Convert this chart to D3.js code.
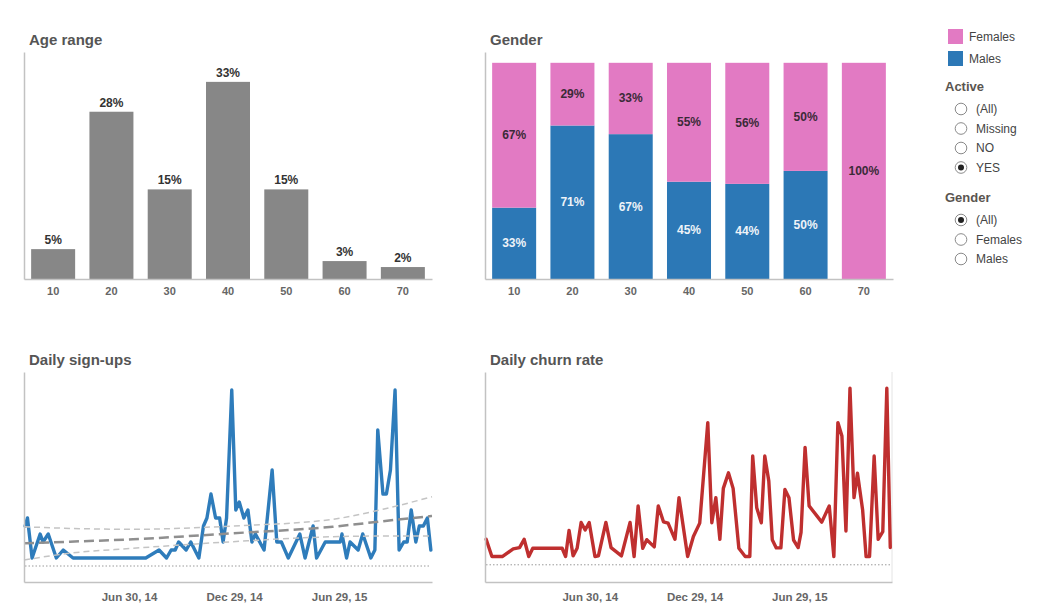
<!DOCTYPE html>
<html><head><meta charset="utf-8">
<script src="https://cdn.jsdelivr.net/npm/d3@7"></script>
<style>body{margin:0;background:#fff;} svg{display:block;font-family:"Liberation Sans",Arial,sans-serif;}</style>
</head><body><svg id="chart" width="1048" height="616"></svg>
<script>
// ---------- data ----------
const ageCategories = ["10","20","30","40","50","60","70"];
const agePercent = [5,28,15,33,15,3,2];
const genderMales = [33,71,67,45,44,50,0];
const genderFemales = [67,29,33,55,56,50,100];
const legendSeries = ["Females","Males"];
const activeOptions = ["(All)","Missing","NO","YES"];
const activeSelected = "YES";
const genderOptions = ["(All)","Females","Males"];
const genderSelected = "(All)";
const dateDomain = ["2013-12-30","2015-12-07"];
const dateTicks = ["2014-06-30","2014-12-29","2015-06-29"];

const signupDates = ["2014-01-01","2014-01-05","2014-01-13","2014-01-27","2014-02-01","2014-02-10","2014-02-24","2014-03-08","2014-03-25","2014-07-29",
"2014-08-21","2014-09-03","2014-09-11","2014-09-18","2014-09-24","2014-10-07","2014-10-15","2014-10-29","2014-11-06","2014-11-12",
"2014-11-19","2014-11-27","2014-12-04","2014-12-10","2014-12-16","2014-12-25","2015-01-01","2015-01-07","2015-01-15","2015-01-22",
"2015-01-29","2015-02-04","2015-02-19","2015-03-05","2015-03-13","2015-03-21","2015-04-02","2015-04-22","2015-05-01","2015-05-15",
"2015-05-21","2015-06-05","2015-07-01","2015-07-04","2015-07-12","2015-07-18","2015-08-01","2015-08-09","2015-08-23","2015-08-30",
"2015-09-04","2015-09-13","2015-09-19","2015-09-26","2015-10-04","2015-10-11","2015-10-19","2015-10-25","2015-11-01","2015-11-09",
"2015-11-15","2015-11-22","2015-11-29","2015-12-05"];
const signupValues = [5,6,1,4,3,4,1,2,1,1,
2,1,2,2,3,2,3,1,5,6,
9,6,6,3,6,22,7,8,6,7,
3,4,2,12,3,3,1,4,1,5,
1,3,3,4,1,3,2,4,1,2,
17,9,9,12,22,2,3,3,7,3,
5,5,6,2];

const trendDates = ["2013-12-30","2014-03-20","2014-07-07","2014-12-27","2015-06-18","2015-09-13","2015-12-07"];
const trendCenter = [2.84,3.04,3.34,4.09,4.91,5.6,6.25];
const trendUpper = [4.91,4.7,4.59,5.0,5.84,7.09,8.66];
const trendLower = [0.75,1.6,2.21,3.04,3.66,3.75,3.75];

const churnDates = ["2014-01-01","2014-01-11","2014-01-29","2014-02-17","2014-02-28","2014-03-08","2014-03-16","2014-03-23","2014-05-13","2014-05-19",
"2014-05-25","2014-06-01","2014-06-08","2014-06-15","2014-06-22","2014-06-29","2014-07-09","2014-07-15","2014-07-28","2014-08-06",
"2014-08-24","2014-09-08","2014-09-15","2014-09-22","2014-09-30","2014-10-07","2014-10-20","2014-10-27","2014-11-05","2014-11-13",
"2014-11-25","2014-12-02","2014-12-17","2014-12-27","2015-01-07","2015-01-21","2015-01-28","2015-02-04","2015-02-11","2015-02-17",
"2015-02-26","2015-03-06","2015-03-16","2015-03-27","2015-04-04","2015-04-09","2015-04-16","2015-04-24","2015-04-30","2015-05-07",
"2015-05-13","2015-05-20","2015-05-28","2015-06-04","2015-06-11","2015-06-19","2015-06-27","2015-07-02","2015-07-09","2015-07-16",
"2015-08-07","2015-08-20","2015-08-28","2015-09-04","2015-09-11","2015-09-18","2015-09-25","2015-10-02","2015-10-08","2015-10-17",
"2015-10-23","2015-10-29","2015-11-06","2015-11-13","2015-11-21","2015-11-28","2015-12-04"];
const churnValues = [0.74,0.24,0.24,0.46,0.50,0.74,0.24,0.48,0.48,0.24,
1.00,0.26,0.48,1.23,1.01,1.23,0.24,0.26,1.23,0.50,
0.26,1.23,0.24,1.71,0.48,0.73,0.52,1.71,1.25,1.21,
0.74,1.95,0.24,0.82,1.21,4.13,1.22,1.95,0.74,2.22,
2.67,2.22,0.48,0.24,0.24,3.16,1.66,1.22,3.16,2.43,
0.73,0.49,0.49,2.19,1.95,0.72,0.50,0.94,3.41,1.71,
1.24,1.71,0.24,4.13,3.74,0.98,5.13,1.95,2.66,1.59,
0.24,0.24,3.16,0.74,0.96,5.13,0.50];

// ---------- drawing ----------
const svg = d3.select("#chart");
const parse = d3.timeParse("%Y-%m-%d");
const C = {bar:"#878787", male:"#2c78b6", female:"#e27ac3", axis:"#c2c2c2", title:"#555", tick:"#666", label:"#333", blue:"#2e7cbb", red:"#bf2f2f"};

function title(x, y, t){
  svg.append("text").attr("x",x).attr("y",y).attr("font-size",15).attr("font-weight","bold").attr("fill",C.title).text(t);
}
function styleAxis(g){
  g.select(".domain").attr("stroke",C.axis).attr("stroke-width",1.5);
  g.selectAll(".tick line").remove();
  g.selectAll(".tick text").attr("fill",C.tick).attr("font-weight","bold").attr("font-family","Liberation Sans, Arial, sans-serif");
}

// Age range
(function(){
  const x = d3.scaleBand().domain(ageCategories).range([24,432]).paddingInner(0.245).paddingOuter(0.1225);
  const y = d3.scaleLinear().domain([0,38]).range([279,52]);
  title(29,45,"Age range");
  const data = ageCategories.map((c,i)=>({c, v:agePercent[i]}));
  svg.append("g").selectAll("rect").data(data).join("rect")
    .attr("x",d=>x(d.c)).attr("width",x.bandwidth()).attr("y",d=>y(d.v)).attr("height",d=>y(0)-y(d.v)).attr("fill",C.bar);
  svg.append("g").selectAll("text").data(data).join("text")
    .attr("x",d=>x(d.c)+x.bandwidth()/2).attr("y",d=>y(d.v)-5).attr("text-anchor","middle")
    .attr("font-size",12).attr("font-weight","bold").attr("fill",C.label).text(d=>d.v+"%");
  const gx = svg.append("g").attr("transform","translate(0,279)").call(d3.axisBottom(x).tickSize(0).tickSizeOuter(0).tickPadding(8));
  gx.selectAll("text").attr("font-size",11);
  styleAxis(gx);
  const gy = svg.append("g").attr("transform","translate(24,0)").call(d3.axisLeft(y).tickValues([]).tickSizeOuter(0));
  styleAxis(gy);
})();

// Gender
(function(){
  const x = d3.scaleBand().domain(ageCategories).range([485,893]).paddingInner(0.245).paddingOuter(0.1225);
  const y = d3.scaleLinear().domain([0,1.05]).range([279,52]);
  title(490,45,"Gender");
  const rows = ageCategories.map((c,i)=>({c, Males:genderMales[i]/100, Females:genderFemales[i]/100}));
  const stack = d3.stack().keys(["Males","Females"])(rows);
  const col = {Males:C.male, Females:C.female};
  const txt = {Males:"#eef3f8", Females:"#3b2a38"};
  stack.forEach(s=>{
    const g = svg.append("g");
    g.selectAll("rect").data(s.filter(d=>d[1]-d[0]>0)).join("rect")
      .attr("x",d=>x(d.data.c)).attr("width",x.bandwidth()).attr("y",d=>y(d[1])).attr("height",d=>y(d[0])-y(d[1])).attr("fill",col[s.key]);
    g.selectAll("text").data(s.filter(d=>d[1]-d[0]>0)).join("text")
      .attr("x",d=>x(d.data.c)+x.bandwidth()/2).attr("y",d=>(y(d[0])+y(d[1]))/2+4).attr("text-anchor","middle")
      .attr("font-size",12).attr("font-weight","bold").attr("fill",txt[s.key])
      .text(d=>Math.round((d[1]-d[0])*100)+"%");
  });
  const gx = svg.append("g").attr("transform","translate(0,279)").call(d3.axisBottom(x).tickSize(0).tickSizeOuter(0).tickPadding(8));
  gx.selectAll("text").attr("font-size",11);
  styleAxis(gx);
  const gy = svg.append("g").attr("transform","translate(485,0)").call(d3.axisLeft(y).tickValues([]).tickSizeOuter(0));
  styleAxis(gy);
})();

// Legend + filters
(function(){
  const col = {Females:C.female, Males:C.male};
  const lg = svg.append("g").selectAll("g").data(legendSeries).join("g")
    .attr("transform",(d,i)=>`translate(948,${29+i*22})`);
  lg.append("rect").attr("width",15).attr("height",15).attr("fill",d=>col[d]);
  lg.append("text").attr("x",21).attr("y",11.5).attr("font-size",12).attr("fill","#444").text(d=>d);

  function filter(label, opts, sel, y0){
    svg.append("text").attr("x",945).attr("y",y0).attr("font-size",13).attr("font-weight","bold").attr("fill","#5a5550").text(label);
    const g = svg.append("g").selectAll("g").data(opts).join("g")
      .attr("transform",(d,i)=>`translate(961,${y0+18.5+i*19.5})`);
    g.append("circle").attr("r",5.8).attr("fill","#fff").attr("stroke","#8a8a8a").attr("stroke-width",1);
    g.filter(d=>d===sel).append("circle").attr("r",3).attr("fill","#222");
    g.append("text").attr("x",15).attr("y",4.2).attr("font-size",12).attr("fill","#444").text(d=>d);
  }
  filter("Active", activeOptions, activeSelected, 90.5);
  filter("Gender", genderOptions, genderSelected, 201.5);
})();

// Line charts
function lineChart(x0, x1, ttl, dates, values, yDomain, color, trends, rightBorder){
  const x = d3.scaleTime().domain(dateDomain.map(parse)).range([x0,x1]);
  const y = d3.scaleLinear().domain(yDomain).range([582,372]);
  title(x0+5,364.5,ttl);
  svg.append("line").attr("x1",x0+1).attr("x2",x1-1).attr("y1",y(0)).attr("y2",y(0))
    .attr("stroke","#9a9a9a").attr("stroke-width",1).attr("stroke-dasharray","1.5,2");
  if(rightBorder){
    svg.append("line").attr("x1",x1).attr("x2",x1).attr("y1",372).attr("y2",582).attr("stroke","#e4e4e4").attr("stroke-width",1);
  }
  const data = dates.map((d,i)=>({d:parse(d), v:values[i]}));
  svg.append("path").datum(data).attr("fill","none").attr("stroke",color).attr("stroke-width",3.4)
    .attr("stroke-linejoin","round").attr("stroke-linecap","round")
    .attr("d",d3.line().x(d=>x(d.d)).y(d=>y(d.v)));
  if(trends){
    const td = trendDates.map(parse);
    const ln = d3.line().curve(d3.curveMonotoneX).x((d,i)=>x(td[i])).y(d=>y(d));
    [[trendUpper,"#c4c4c4",1.5,"6,4"],[trendLower,"#c4c4c4",1.5,"6,4"],[trendCenter,"#8f8f8f",2.5,"10,5"]].forEach(t=>{
      svg.append("path").datum(t[0]).attr("fill","none").attr("stroke",t[1]).attr("stroke-width",t[2])
        .attr("stroke-dasharray",t[3]).attr("d",ln);
    });
  }
  const gx = svg.append("g").attr("transform","translate(0,582)")
    .call(d3.axisBottom(x).tickValues(dateTicks.map(parse)).tickFormat(d3.timeFormat("%b %d, %y")).tickSize(0).tickSizeOuter(0).tickPadding(11));
  gx.selectAll("text").attr("font-size",11.5);
  styleAxis(gx);
  const gy = svg.append("g").attr("transform",`translate(${x0},0)`).call(d3.axisLeft(y).tickValues([]).tickSizeOuter(0));
  styleAxis(gy);
}
lineChart(24,432,"Daily sign-ups",signupDates,signupValues,[-2,24.25],C.blue,true,false);
lineChart(485,892,"Daily churn rate",churnDates,churnValues,[-0.5,5.6],C.red,false,true);
</script></body></html>
